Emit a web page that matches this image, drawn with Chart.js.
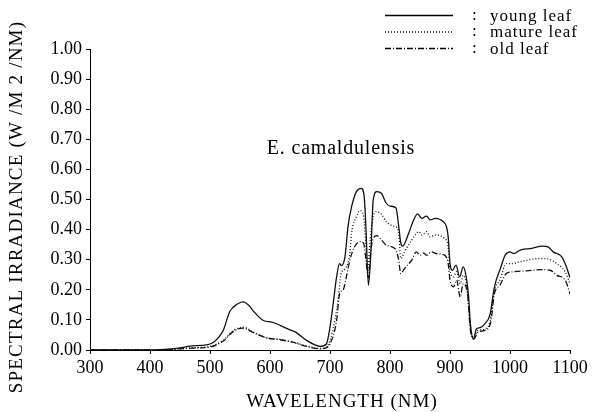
<!DOCTYPE html>
<html lang="en">
<head>
  <meta charset="UTF-8" />
  <title>E. camaldulensis spectral irradiance</title>
  <script src="https://cdn.jsdelivr.net/npm/chart.js"></script>
  <style>
    body {
      margin: 0;
      background: #fff;
    }
    #chart {
      display: block;
    }
  </style>
</head>
<body>
  <canvas id="chart" width="602" height="412"></canvas>

  <script>
    // values (wavelength in nm, irradiance in W/M2/NM)
    const youngNm = [300, 400, 450, 467, 494, 506, 522, 533, 545, 555, 565, 572, 589, 603, 617, 633, 642, 661, 675, 683, 694, 700, 706, 711, 716, 719, 725, 730, 736, 744, 752, 757, 760, 764, 768, 772, 778, 786, 793, 800, 810, 814, 818, 821, 831, 839, 846, 853, 861, 867, 875, 889, 894, 897, 900, 904, 910, 916, 922, 927, 931, 934, 939, 944, 950, 958, 967, 973, 977, 983, 992, 1000, 1006, 1017, 1033, 1055, 1064, 1072, 1086, 1094, 1100];
    const youngVal = [0, 0, 0.007, 0.013, 0.017, 0.026, 0.065, 0.128, 0.152, 0.16, 0.148, 0.13, 0.098, 0.093, 0.082, 0.067, 0.06, 0.032, 0.017, 0.012, 0.02, 0.076, 0.165, 0.243, 0.287, 0.28, 0.31, 0.41, 0.476, 0.526, 0.537, 0.51, 0.40, 0.215, 0.32, 0.498, 0.526, 0.52, 0.49, 0.478, 0.472, 0.42, 0.355, 0.345, 0.387, 0.43, 0.452, 0.437, 0.445, 0.432, 0.437, 0.426, 0.41, 0.376, 0.287, 0.265, 0.282, 0.243, 0.276, 0.243, 0.176, 0.087, 0.037, 0.07, 0.074, 0.087, 0.12, 0.198, 0.232, 0.265, 0.315, 0.326, 0.32, 0.332, 0.337, 0.345, 0.342, 0.326, 0.31, 0.276, 0.24];

    const matureNm = [300, 420, 450, 480, 500, 522, 539, 555, 572, 594, 617, 639, 661, 683, 694, 700, 708, 714, 718, 725, 730, 733, 736, 744, 750, 756, 760, 763, 766, 772, 778, 786, 794, 808, 814, 818, 824, 836, 842, 848, 853, 861, 867, 875, 891, 897, 900, 906, 911, 917, 922, 928, 934, 939, 947, 958, 967, 974, 983, 994, 1003, 1022, 1050, 1067, 1078, 1092, 1100];
    const matureVal = [0, 0, 0.004, 0.008, 0.012, 0.032, 0.065, 0.076, 0.06, 0.041, 0.035, 0.026, 0.013, 0.005, 0.01, 0.032, 0.098, 0.176, 0.25, 0.27, 0.29, 0.32, 0.388, 0.443, 0.463, 0.443, 0.343, 0.26, 0.343, 0.443, 0.46, 0.45, 0.426, 0.41, 0.398, 0.304, 0.326, 0.365, 0.382, 0.393, 0.382, 0.393, 0.376, 0.382, 0.37, 0.343, 0.265, 0.243, 0.26, 0.22, 0.248, 0.21, 0.076, 0.043, 0.065, 0.07, 0.098, 0.198, 0.232, 0.287, 0.287, 0.296, 0.304, 0.3, 0.287, 0.26, 0.22];

    const oldNm = [300, 420, 450, 480, 500, 522, 539, 555, 572, 594, 617, 639, 661, 683, 694, 700, 711, 716, 722, 728, 733, 741, 750, 756, 760, 764, 768, 772, 778, 786, 794, 808, 814, 818, 824, 836, 844, 850, 856, 861, 869, 878, 891, 897, 900, 906, 911, 917, 922, 929, 934, 940, 947, 958, 968, 974, 983, 994, 1006, 1028, 1050, 1067, 1078, 1092, 1100];
    const oldVal = [0, 0, 0.004, 0.007, 0.01, 0.03, 0.062, 0.073, 0.058, 0.04, 0.034, 0.025, 0.012, 0.004, 0.008, 0.02, 0.098, 0.187, 0.2, 0.25, 0.298, 0.343, 0.36, 0.355, 0.298, 0.24, 0.33, 0.37, 0.38, 0.365, 0.348, 0.337, 0.304, 0.254, 0.27, 0.298, 0.326, 0.315, 0.322, 0.315, 0.326, 0.32, 0.315, 0.287, 0.232, 0.21, 0.232, 0.176, 0.22, 0.19, 0.065, 0.037, 0.06, 0.065, 0.093, 0.187, 0.215, 0.254, 0.26, 0.263, 0.267, 0.265, 0.248, 0.232, 0.187];

    const seriesNames = ['young leaf', 'mature leaf', 'old leaf'];
    const chartTitle = 'E. camaldulensis';
    const xTitle = 'WAVELENGTH (NM)';
    const yTitle = 'SPECTRAL IRRADIANCE (W /M 2 /NM)';

    const serif = "'Liberation Serif', 'Times New Roman', serif";

    function toPoints(xs, ys) {
      return xs.map((x, i) => ({ x: x, y: ys[i] }));
    }

    // legend, annotation and axis titles drawn by hand
    const textPlugin = {
      id: 'texts',
      afterDraw(chart) {
        const ctx = chart.ctx;
        ctx.save();
        ctx.fillStyle = '#000';
        ctx.strokeStyle = '#000';

        // legend
        chart.data.datasets.forEach((ds, i) => {
          const y = 15.5 + i * 16.5;
          ctx.lineWidth = ds.borderWidth;
          ctx.setLineDash(ds.borderDash || []);
          ctx.beginPath();
          ctx.moveTo(385, y);
          ctx.lineTo(453, y);
          ctx.stroke();
          ctx.setLineDash([]);
          ctx.font = '17px ' + serif;
          ctx.letterSpacing = '1px';
          ctx.textAlign = 'left';
          ctx.textBaseline = 'middle';
          ctx.fillText(':', 472, y);
          ctx.fillText(ds.label, 490, y + 1);
        });

        // species name
        ctx.font = '20px ' + serif;
        ctx.letterSpacing = '0.8px';
        ctx.textAlign = 'center';
        ctx.textBaseline = 'middle';
        ctx.fillText(chartTitle, 341, 149);

        // x title
        ctx.font = '19px ' + serif;
        ctx.letterSpacing = '1px';
        ctx.fillText(xTitle, 342, 402);

        // y title
        ctx.translate(17, 207);
        ctx.rotate(-Math.PI / 2);
        ctx.font = '19px ' + serif;
        ctx.letterSpacing = '1.2px';
        ctx.fillText(yTitle, 0, 0);
        ctx.restore();
      }
    };

    const chart = new Chart(document.getElementById('chart'), {
      type: 'line',
      data: {
        datasets: [
          {
            label: seriesNames[0],
            data: toPoints(youngNm, youngVal),
            borderColor: '#111',
            borderWidth: 1.3
          },
          {
            label: seriesNames[1],
            data: toPoints(matureNm, matureVal),
            borderColor: '#111',
            borderWidth: 1.3,
            borderDash: [1, 2]
          },
          {
            label: seriesNames[2],
            data: toPoints(oldNm, oldVal),
            borderColor: '#111',
            borderWidth: 1.3,
            borderDash: [6, 2, 1, 2]
          }
        ]
      },
      options: {
        responsive: false,
        animation: false,
        devicePixelRatio: 1,
        layout: {
          padding: { top: 49, right: 32, bottom: 0, left: 0 }
        },
        elements: {
          point: { radius: 0 },
          line: { cubicInterpolationMode: 'monotone', fill: false }
        },
        plugins: {
          legend: { display: false },
          tooltip: { enabled: false }
        },
        scales: {
          x: {
            type: 'linear',
            min: 300,
            max: 1100,
            afterFit: s => { s.height = 62; },
            ticks: {
              stepSize: 100,
              color: '#000',
              padding: 3,
              maxRotation: 0,
              font: { family: serif, size: 18 },
              callback: v => String(v)
            },
            grid: {
              drawOnChartArea: false,
              drawTicks: true,
              tickLength: 4,
              color: '#000'
            },
            border: { color: '#000', width: 1 }
          },
          y: {
            min: 0,
            max: 1,
            afterFit: s => { s.width = 90; },
            ticks: {
              stepSize: 0.1,
              color: '#000',
              padding: 4,
              font: { family: serif, size: 18 },
              callback: v => v.toFixed(2)
            },
            grid: {
              drawOnChartArea: false,
              drawTicks: true,
              tickLength: 4,
              color: '#000'
            },
            border: { color: '#000', width: 1 }
          }
        }
      },
      plugins: [textPlugin]
    });
  </script>
</body>
</html>
